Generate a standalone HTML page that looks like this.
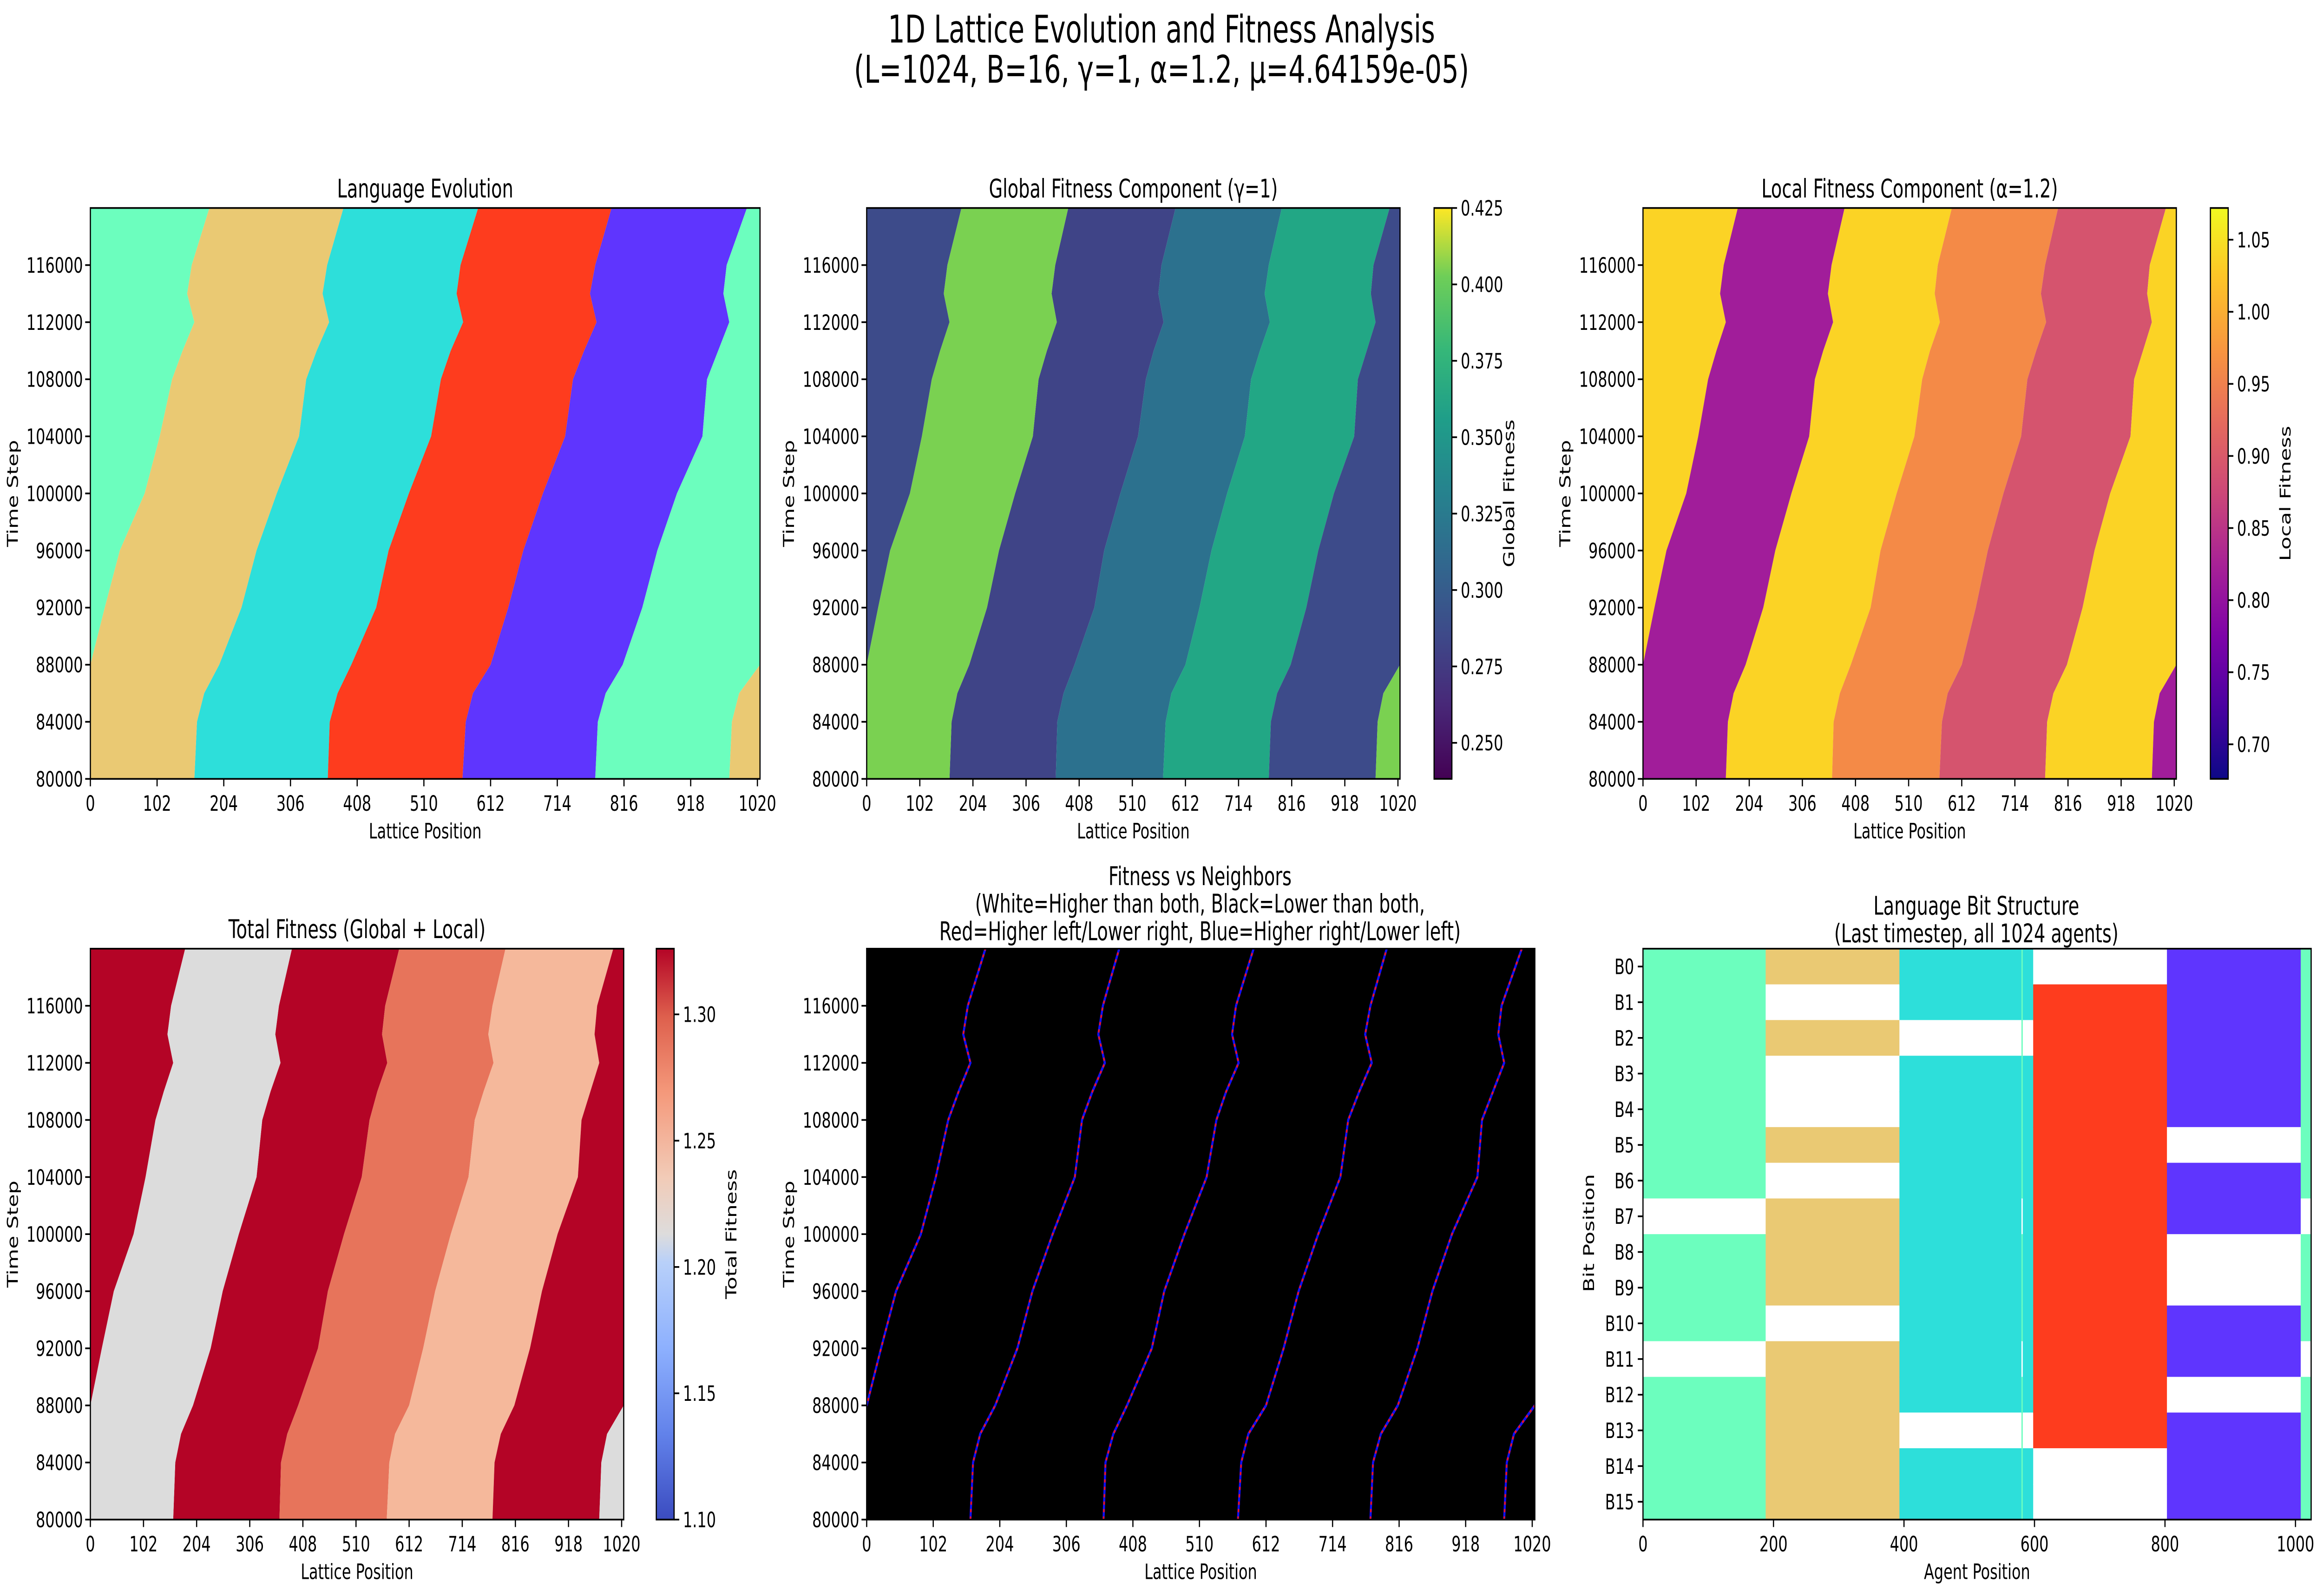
<!DOCTYPE html>
<html><head><meta charset="utf-8">
<style>
html,body{margin:0;padding:0;background:#fff;overflow:hidden;width:100vw;height:100vh;}
svg{display:block;position:absolute;left:0;top:0;width:100vw;height:100vh;font-family:"DejaVu Sans","Liberation Sans",sans-serif;}
</style></head>
<body>
<svg id="fig" xmlns="http://www.w3.org/2000/svg" viewBox="0 0 1568 752" preserveAspectRatio="none">
<defs>
<linearGradient id="viridis" x1="0" y1="1" x2="0" y2="0">
<stop offset="0" stop-color="#440154"/><stop offset="0.13" stop-color="#482878"/><stop offset="0.25" stop-color="#3e4989"/><stop offset="0.38" stop-color="#31688e"/><stop offset="0.5" stop-color="#26828e"/><stop offset="0.63" stop-color="#1f9e89"/><stop offset="0.75" stop-color="#35b779"/><stop offset="0.88" stop-color="#6ece58"/><stop offset="1" stop-color="#fde725"/>
</linearGradient>
<linearGradient id="plasma" x1="0" y1="1" x2="0" y2="0">
<stop offset="0" stop-color="#0d0887"/><stop offset="0.13" stop-color="#4c02a1"/><stop offset="0.25" stop-color="#7e03a8"/><stop offset="0.38" stop-color="#a92395"/><stop offset="0.5" stop-color="#cc4778"/><stop offset="0.63" stop-color="#e66c5c"/><stop offset="0.75" stop-color="#f89540"/><stop offset="0.88" stop-color="#fdc527"/><stop offset="1" stop-color="#f0f921"/>
</linearGradient>
<linearGradient id="coolwarm" x1="0" y1="1" x2="0" y2="0">
<stop offset="0" stop-color="#3b4cc0"/><stop offset="0.15" stop-color="#6282ea"/><stop offset="0.3" stop-color="#8db0fe"/><stop offset="0.45" stop-color="#b8d0f9"/><stop offset="0.5" stop-color="#dddcdc"/><stop offset="0.6" stop-color="#f2cbb7"/><stop offset="0.75" stop-color="#f4987a"/><stop offset="0.88" stop-color="#de604d"/><stop offset="1" stop-color="#b40426"/>
</linearGradient>
</defs>
<text x="784" y="20" font-size="18" text-anchor="middle">1D Lattice Evolution and Fitness Analysis</text>
<text x="784" y="39" font-size="18" text-anchor="middle">(L=1024, B=16, γ=1, α=1.2, μ=4.64159e-05)</text>
<g id="root"></g>
</svg>
<script>
// ---- data ----
const times = [80000,84000,86000,88000,92000,96000,100000,104000,108000,110000,112000,114000,116000,120000];
const wallTanCyan   = [159,163,174,197,231,254,285,319,330,346,365,355,362,387];
const wallCyanRed   = [363,366,378,399,437,456,487,521,536,551,570,560,566,593];
const wallRedPurple = [569,574,585,612,639,662,692,726,738,755,774,764,772,797];
const wallPurpleGreen = [772,776,788,814,844,867,897,936,943,960,977,968,973,1004];
const wallGreenTan  = [977,981,992,1024,1046,1069,1107,1130,1149,1165,1183,1172,1179,1206];
const domainNames = ['cyan','red','purple','green','tan'];
const timeTicks = [80000,84000,88000,92000,96000,100000,104000,108000,112000,116000];
const latticeTicks = [0,102,204,306,408,510,612,714,816,918,1020];
const globalTicks = [0.250,0.275,0.300,0.325,0.350,0.375,0.400,0.425];
const localTicks = [0.70,0.75,0.80,0.85,0.90,0.95,1.00,1.05];
const totalTicks = [1.10,1.15,1.20,1.25,1.30];
const agentTicks = [0,200,400,600,800,1000];
const lastStarts = [0,188,393,580,582,598,803,1008];
const lastEnds   = [188,393,580,582,598,803,1008,1024];
const lastLangs  = ['green','tan','cyan','green','cyan','red','purple','green'];
const bitsGreen  = [1,1,1,1,1,1,1,0,1,1,1,0,1,1,1,1];
const bitsTan    = [1,0,1,0,0,1,0,1,1,1,0,1,1,1,1,1];
const bitsCyan   = [1,1,0,1,1,1,1,1,1,1,1,1,1,0,1,1];
const bitsRed    = [0,1,1,1,1,1,1,1,1,1,1,1,1,1,0,0];
const bitsPurple = [1,1,1,1,1,0,1,1,0,0,1,1,0,1,1,1];

const langColor = {green:'#6cfebe',tan:'#eac973',cyan:'#2ddfda',red:'#fe3c1e',purple:'#5f35fe'};
const globalColor = {green:'#3d4b8a',tan:'#7ad151',cyan:'#3f4487',red:'#2c718e',purple:'#22a785'};
const localColor = {green:'#fbd325',tan:'#a11d9a',cyan:'#fbd325',red:'#f48a47',purple:'#d5546e'};
const totalColor = {green:'#b40426',tan:'#dcdcdc',cyan:'#b40426',red:'#e7745b',purple:'#f5b89b'};
const bitsOf = {green:bitsGreen,tan:bitsTan,cyan:bitsCyan,red:bitsRed,purple:bitsPurple};

const NS='http://www.w3.org/2000/svg';
const root=document.getElementById('root');
function mk(tag,attrs,parent){const e=document.createElementNS(NS,tag);for(const k in attrs)e.setAttribute(k,attrs[k]);(parent||root).appendChild(e);return e;}
function txt(s,x,y,size,anchor,parent,rot){const t=mk('text',{x:x,y:y,'font-size':size,'text-anchor':anchor||'middle'},parent);if(rot)t.setAttribute('transform','rotate('+rot+' '+x+' '+y+')');t.textContent=s;return t;}

const walls=[wallTanCyan,wallCyanRed,wallRedPurple,wallPurpleGreen,wallGreenTan];

function makeAxes(name,x0,y0,w,h){
  const g=mk('g',{});
  
  
  const cid='clip-'+name;
  const cp=mk('clipPath',{id:cid},g);mk('rect',{x:x0,y:y0,width:w,height:h},cp);
  const inner=mk('g',{'clip-path':'url(#'+cid+')'},g);
  return {g:g,inner:inner,x0:x0,y0:y0,w:w,h:h,
    xs:v=>x0+v/1024*w, ys:t=>y0+h-(t-80000)/40000*h};
}
function frame(ax){const r=mk('rect',{x:ax.x0,y:ax.y0,width:ax.w,height:ax.h,fill:'none',stroke:'#000','stroke-width':0.8},ax.g);
  }
function timeAxis(ax,label){
  const g=mk('g',{},ax.g);
  
  
  timeTicks.forEach(t=>{const y=ax.ys(t);mk('line',{x1:ax.x0-3.5,x2:ax.x0,y1:y,y2:y,stroke:'#000','stroke-width':0.8},g);
    const l=txt(String(t),ax.x0-5,y+3.6,10,'end',g);});
  const yl=txt(label,ax.x0-49,ax.y0+ax.h/2,10,'middle',g,-90);
  
}
function latticeAxis(ax,ticks,label,maxv){
  const g=mk('g',{},ax.g);
  
  
  ticks.forEach(v=>{const x=ax.x0+v/maxv*ax.w;mk('line',{x1:x,x2:x,y1:ax.y0+ax.h,y2:ax.y0+ax.h+3.5,stroke:'#000','stroke-width':0.8},g);
    const l=txt(String(v),x,ax.y0+ax.h+15,10,'middle',g);});
  const xl=txt(label,ax.x0+ax.w/2,ax.y0+ax.h+28,10,'middle',g);
  
}
function domainPolys(ax,colors){
  for(let k=0;k<5;k++){
    const L=walls[k], R=k<4?walls[k+1]:walls[0].map(v=>v+1024);
    [0,-1024].forEach(sh=>{
      let pts=[];
      times.forEach((t,i)=>pts.push(ax.xs(L[i]+sh)+','+ax.ys(t)));
      for(let i=times.length-1;i>=0;i--)pts.push(ax.xs(R[i]+sh)+','+ax.ys(times[i]));
      const p=mk('polygon',{points:pts.join(' '),fill:colors[domainNames[k]]},ax.inner);
      
      
    });
  }
}
function colorbar(name,x,y0,h,grad,ticks,vmin,vmax,label,fmt){
  const g=mk('g',{});
  
  
  mk('rect',{x:x,y:y0,width:12,height:h,fill:'url(#'+grad+')',stroke:'#000','stroke-width':0.8},g);
  ticks.forEach(v=>{const y=y0+h-(v-vmin)/(vmax-vmin)*h;mk('line',{x1:x+12,x2:x+15.5,y1:y,y2:y,stroke:'#000','stroke-width':0.8},g);
    const l=txt(v.toFixed(fmt),x+18,y+3.6,10,'start',g);});
  const t=txt(label,x+54,y0+h/2,10,'middle',g,-90);
  
}

// Panel 1
let a=makeAxes('language-evolution-panel',61,98,452,269);
domainPolys(a,langColor);frame(a);timeAxis(a,'Time Step');latticeAxis(a,latticeTicks,'Lattice Position',1024);
txt('Language Evolution',287,93,12,'middle',a.g);

// Panel 2
a=makeAxes('global-fitness-panel',585,98,360,269);
domainPolys(a,globalColor);frame(a);timeAxis(a,'Time Step');latticeAxis(a,latticeTicks,'Lattice Position',1024);
txt('Global Fitness Component (γ=1)',765,93,12,'middle',a.g);
colorbar('global-fitness-colorbar',968,98,269,'viridis',globalTicks,0.2382,0.425,'Global Fitness',3);

// Panel 3
a=makeAxes('local-fitness-panel',1109,98,360,269);
domainPolys(a,localColor);frame(a);timeAxis(a,'Time Step');latticeAxis(a,latticeTicks,'Lattice Position',1024);
txt('Local Fitness Component (α=1.2)',1289,93,12,'middle',a.g);
colorbar('local-fitness-colorbar',1492,98,269,'plasma',localTicks,0.676,1.072,'Local Fitness',2);

// Panel 4
a=makeAxes('total-fitness-panel',61,447,360,269);
domainPolys(a,totalColor);frame(a);timeAxis(a,'Time Step');latticeAxis(a,latticeTicks,'Lattice Position',1024);
txt('Total Fitness (Global + Local)',241,442,12,'middle',a.g);
colorbar('total-fitness-colorbar',443,447,269,'coolwarm',totalTicks,1.10,1.326,'Total Fitness',2);

// Panel 5
a=makeAxes('fitness-neighbors-panel',585,447,451,269);
mk('rect',{x:585,y:447,width:451,height:269,fill:'#000'},a.inner);
walls.forEach((W,k)=>{[0,-1024].forEach(sh=>{
  const pts=times.map((t,i)=>a.xs(W[i]+sh)+','+a.ys(t)).join(' ');
  const b=mk('polyline',{points:pts,fill:'none',stroke:'#1010ff','stroke-width':1.4},a.inner);
  
  const r=mk('polyline',{points:pts,fill:'none',stroke:'#ff1010','stroke-width':1.0,'stroke-dasharray':'1.5 2'},a.inner);
  
});});
frame(a);timeAxis(a,'Time Step');latticeAxis(a,latticeTicks,'Lattice Position',1024);
txt('Fitness vs Neighbors',810,417,12,'middle',a.g);
txt('(White=Higher than both, Black=Lower than both,',810,430,12,'middle',a.g);
txt('Red=Higher left/Lower right, Blue=Higher right/Lower left)',810,443,12,'middle',a.g);

// Panel 6
a=makeAxes('bit-structure-panel',1109,447,451,269);
const rowH=269/16;
lastStarts.forEach((s,i)=>{
  const lang=lastLangs[i], bits=bitsOf[lang];
  bits.forEach((b,r)=>{
    const c=mk('rect',{x:a.xs(s),y:447+r*rowH,width:a.xs(lastEnds[i])-a.xs(s)+0.3,height:rowH+0.3,fill:b?langColor[lang]:'#ffffff'},a.inner);
    
    
  });
});
frame(a);
latticeAxis(a,agentTicks,'Agent Position',1024);
{
  const g=mk('g',{},a.g);
  
  
  for(let r=0;r<16;r++){const y=447+(r+0.5)*rowH;mk('line',{x1:1105.5,x2:1109,y1:y,y2:y,stroke:'#000','stroke-width':0.8},g);
    const l=txt('B'+r,1103,y+3.6,10,'end',g);}
  const yl=txt('Bit Position',1076,581,10,'middle',g,-90);
  
}
txt('Language Bit Structure',1334,431,12,'middle',a.g);
txt('(Last timestep, all 1024 agents)',1334,444,12,'middle',a.g);
</script>
</body></html>
